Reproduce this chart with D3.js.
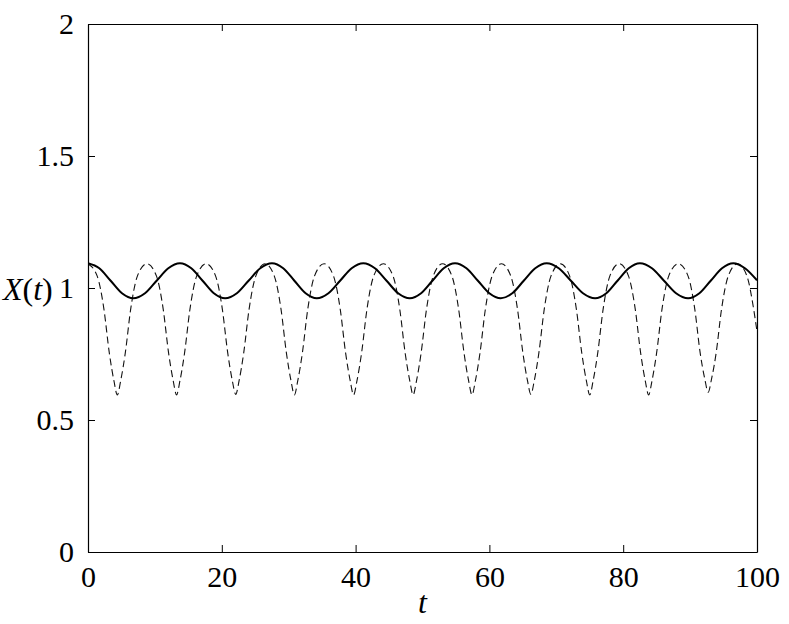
<!DOCTYPE html>
<html>
<head>
<meta charset="utf-8">
<script src="https://cdn.jsdelivr.net/npm/d3@7"></script>
<style>
  html, body { margin: 0; padding: 0; background: #fff; }
  svg { display: block; }
  svg text { font-family: "Liberation Serif", "Times New Roman", Times, "Nimbus Roman", "DejaVu Serif", serif; fill: #000; }
</style>
</head>
<body>
<svg id="chart" width="789" height="624"></svg>
<script>
// ---- data ----
const xTicks = [0, 20, 40, 60, 80, 100];
const yTicks = [0, 0.5, 1, 1.5, 2];
const yTickLabels = ["0", "0.5", "1", "1.5", "2"];

// solid curve
const solidT = [0, 1.69, 3.385, 5.08, 6.77, 8.52, 10.26, 12.0, 13.75, 15.44, 17.13, 18.81, 20.5,
  22.25, 24.0, 25.75, 27.5, 29.18, 30.85, 32.53, 34.2, 35.94, 37.68, 39.41, 41.15,
  42.89, 44.63, 46.36, 48.1, 49.79, 51.48, 53.17, 54.86, 56.57, 58.28, 59.99, 61.7,
  63.42, 65.13, 66.85, 68.56, 70.37, 72.18, 73.99, 75.8, 77.48, 79.15, 80.83, 82.5,
  84.3, 86.1, 87.9, 89.7, 91.39, 93.08, 94.77, 96.46, 98.2, 100];
const solidX = [1.094, 1.075, 1.0275, 0.980, 0.961, 0.980, 1.0275, 1.075, 1.094, 1.075, 1.0275, 0.980, 0.961,
  0.980, 1.0275, 1.075, 1.094, 1.075, 1.0275, 0.980, 0.961, 0.980, 1.0275, 1.075, 1.094,
  1.075, 1.0275, 0.980, 0.961, 0.980, 1.0275, 1.075, 1.094, 1.075, 1.0275, 0.980, 0.961,
  0.980, 1.0275, 1.075, 1.094, 1.075, 1.0275, 0.980, 0.961, 0.980, 1.0275, 1.075, 1.094,
  1.075, 1.0275, 0.980, 0.961, 0.980, 1.0275, 1.075, 1.094, 1.075, 1.029];

// dashed curve
const dashT = [0,
  1.38, 2.38, 3.18, 3.88, 4.38, 4.88, 5.58, 6.38, 7.38, 8.81,
  10.24, 11.24, 12.04, 12.74, 13.24, 13.74, 14.44, 15.24, 16.24, 17.66,
  19.08, 20.08, 20.88, 21.58, 22.08, 22.58, 23.28, 24.08, 25.08, 26.47,
  27.85, 28.85, 29.65, 30.35, 30.85, 31.35, 32.05, 32.85, 33.85, 35.28,
  36.7, 37.7, 38.5, 39.2, 39.7, 40.2, 40.9, 41.7, 42.7, 44.15,
  45.6, 46.6, 47.4, 48.1, 48.6, 49.1, 49.8, 50.6, 51.6, 53.0,
  54.4, 55.4, 56.2, 56.9, 57.4, 57.9, 58.6, 59.4, 60.4, 61.8,
  63.2, 64.2, 65.0, 65.7, 66.2, 66.7, 67.4, 68.2, 69.2, 70.6,
  72.0, 73.0, 73.8, 74.5, 75.0, 75.5, 76.2, 77.0, 78.0, 79.4,
  80.8, 81.8, 82.6, 83.3, 83.8, 84.3, 85.0, 85.8, 86.8, 88.25,
  89.7, 90.7, 91.5, 92.2, 92.7, 93.2, 93.9, 94.7, 95.7, 97.1,
  98.5, 99.5, 100];
const dashX = [1.092,
  1.045, 0.92, 0.755, 0.648, 0.595, 0.648, 0.755, 0.92, 1.045, 1.092,
  1.045, 0.92, 0.755, 0.648, 0.595, 0.648, 0.755, 0.92, 1.045, 1.092,
  1.045, 0.92, 0.755, 0.648, 0.597, 0.648, 0.755, 0.92, 1.045, 1.092,
  1.045, 0.92, 0.755, 0.648, 0.595, 0.648, 0.755, 0.92, 1.045, 1.092,
  1.045, 0.92, 0.755, 0.648, 0.595, 0.648, 0.755, 0.92, 1.045, 1.092,
  1.045, 0.92, 0.755, 0.648, 0.595, 0.648, 0.755, 0.92, 1.045, 1.092,
  1.045, 0.92, 0.755, 0.648, 0.595, 0.648, 0.755, 0.92, 1.045, 1.092,
  1.045, 0.92, 0.755, 0.648, 0.597, 0.648, 0.755, 0.92, 1.045, 1.092,
  1.045, 0.92, 0.755, 0.648, 0.595, 0.648, 0.755, 0.92, 1.045, 1.092,
  1.045, 0.92, 0.755, 0.648, 0.595, 0.648, 0.755, 0.92, 1.045, 1.092,
  1.045, 0.92, 0.755, 0.655, 0.605, 0.655, 0.755, 0.92, 1.045, 1.092,
  1.045, 0.92, 0.835];

// ---- drawing ----
const svg = d3.select("#chart");
const mLeft = 88, mRight = 757, mTop = 24, mBottom = 552;
const x = d3.scaleLinear().domain([0, 100]).range([mLeft, mRight]);
const y = d3.scaleLinear().domain([0, 2]).range([mBottom, mTop]);
const tickLen = 7;
const fontSize = 30;
const serif = "'Liberation Serif', 'Times New Roman', Times, 'Nimbus Roman', 'DejaVu Serif', serif";

svg.append("clipPath").attr("id", "clip")
  .append("rect").attr("x", mLeft).attr("y", mTop).attr("width", mRight - mLeft).attr("height", mBottom - mTop);

const line = d3.line().x(d => x(d[0])).y(d => y(d[1])).curve(d3.curveMonotoneX);

const g = svg.append("g").attr("clip-path", "url(#clip)");
g.append("path")
  .datum(dashT.map((t, i) => [t, dashX[i]]))
  .attr("d", line)
  .attr("fill", "none")
  .attr("stroke", "#111")
  .attr("stroke-width", 1.1)
  .attr("stroke-dasharray", "7,4");
g.append("path")
  .datum(solidT.map((t, i) => [t, solidX[i]]))
  .attr("d", line)
  .attr("fill", "none")
  .attr("stroke", "#000")
  .attr("stroke-width", 2);

const xAxisB = d3.axisBottom(x).tickValues(xTicks).tickSizeInner(-tickLen).tickSizeOuter(0).tickPadding(14)
  .tickFormat(d3.format("d"));
const xAxisT = d3.axisTop(x).tickValues(xTicks).tickSizeInner(-tickLen).tickSizeOuter(0).tickFormat("");
const yAxisL = d3.axisLeft(y).tickValues(yTicks).tickSizeInner(-tickLen).tickSizeOuter(0).tickPadding(14)
  .tickFormat((d, i) => yTickLabels[i]);
const yAxisR = d3.axisRight(y).tickValues(yTicks).tickSizeInner(-tickLen).tickSizeOuter(0).tickFormat("");

function style(sel) {
  sel.attr("font-family", serif).attr("font-size", fontSize);
  sel.selectAll("path.domain").attr("stroke", "#000").attr("stroke-width", 1.2);
  sel.selectAll(".tick line").attr("stroke", "#000").attr("stroke-width", 1);
  sel.selectAll(".tick text")
    .style("font-family", serif)
    .attr("font-size", fontSize)
    .attr("fill", "#000");
}
svg.append("g").attr("transform", `translate(0,${mBottom})`).call(xAxisB).call(style);
svg.append("g").attr("transform", `translate(0,${mTop})`).call(xAxisT).call(style);
svg.append("g").attr("transform", `translate(${mLeft},0)`).call(yAxisL).call(style);
svg.append("g").attr("transform", `translate(${mRight},0)`).call(yAxisR).call(style);

const ylab = svg.append("text")
  .attr("x", 3).attr("y", 300)
  .style("font-family", serif)
  .attr("font-size", 32);
ylab.append("tspan").attr("font-style", "italic").text("X");
ylab.append("tspan").text("(");
ylab.append("tspan").attr("font-style", "italic").text("t");
ylab.append("tspan").text(")");

svg.append("text")
  .attr("x", (mLeft + mRight) / 2).attr("y", 613)
  .attr("text-anchor", "middle")
  .style("font-family", serif)
  .attr("font-size", 32)
  .attr("font-style", "italic")
  .text("t");
</script>
</body>
</html>
